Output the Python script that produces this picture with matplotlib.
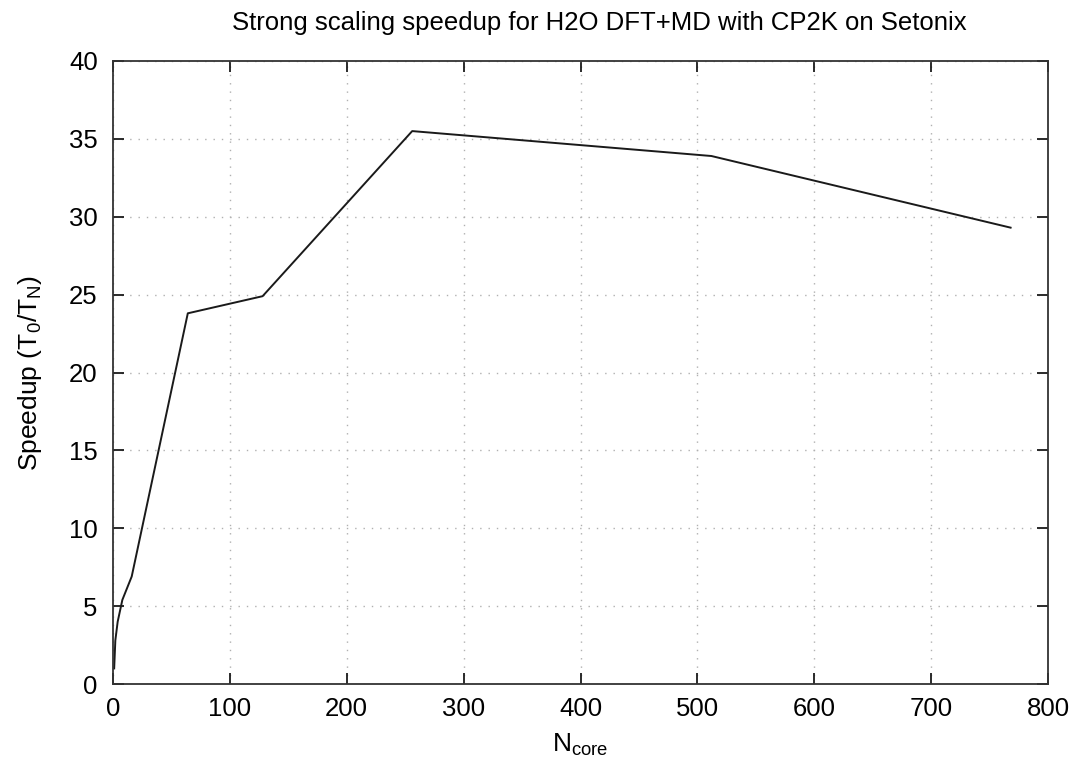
import matplotlib
matplotlib.use("Agg")
import matplotlib.pyplot as plt

n_core = [1, 2, 4, 8, 16, 64, 128, 256, 512, 768]
speedup = [1.0, 2.8, 4.0, 5.4, 6.9, 23.8, 24.9, 35.5, 33.9, 29.3]

x_ticks = [0, 100, 200, 300, 400, 500, 600, 700, 800]
y_ticks = [0, 5, 10, 15, 20, 25, 30, 35, 40]

plt.rcParams['font.family'] = ['Liberation Sans', 'DejaVu Sans']

fig = plt.figure(figsize=(10.81, 7.75), dpi=100)
ax = fig.add_axes([113/1081, 1-684/775, (1048-113)/1081, (684-61)/775])

ax.plot(n_core, speedup, color='#1a1a1a', linewidth=1.4)

ax.set_xlim(0, 800)
ax.set_ylim(0, 40)
ax.set_xticks(x_ticks)
ax.set_yticks(y_ticks)
ax.tick_params(direction='in', length=8, width=1.3, top=True, right=True,
               labelsize=18.5, colors='#1a1a1a', labelcolor='black')
ax.tick_params(axis='x', pad=9)
ax.tick_params(axis='y', pad=11)
ax.grid(True, color='#b0b0b0', linestyle=(0, (1, 5)), linewidth=1.0)
for s in ax.spines.values():
    s.set_linewidth(1.3)
    s.set_color('#333333')

ax.set_title('Strong scaling speedup for H2O DFT+MD with CP2K on Setonix',
             fontsize=18.5, pad=22, x=0.52)
ax.set_xlabel(r'N$_{\mathregular{core}}$', fontsize=19, labelpad=8)
ax.set_ylabel(r'Speedup (T$_{\mathregular{0}}$/T$_{\mathregular{N}}$)', fontsize=19, labelpad=18)

fig.savefig('out.png', dpi=100, facecolor='white')
